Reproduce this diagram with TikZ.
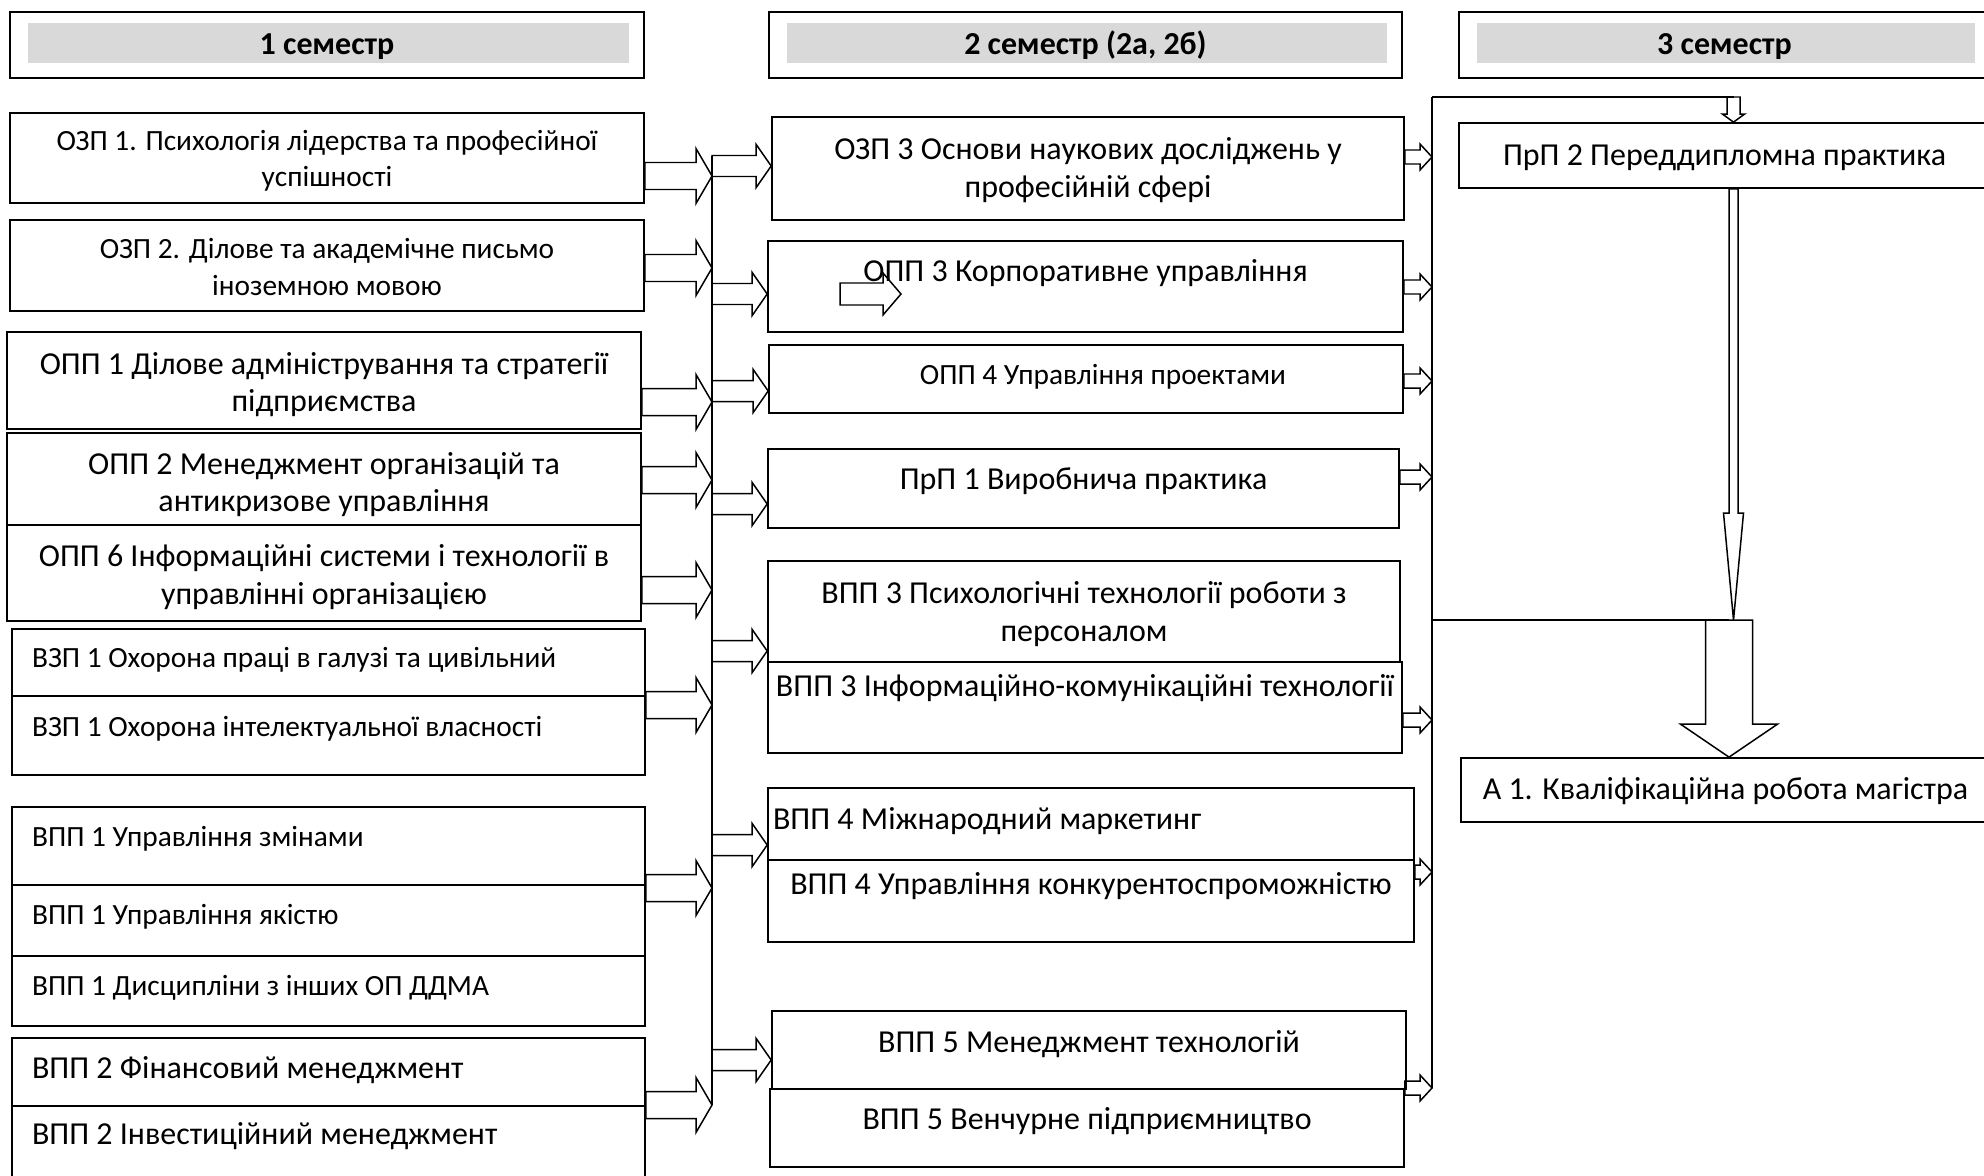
\documentclass[tikz,border=0pt]{standalone}
\usepackage{fontspec}
\setmainfont{Carlito}
\usetikzlibrary{shapes,arrows,positioning}
\definecolor{headgrey}{HTML}{D9D9D9}
\tikzstyle{block} = [rectangle, draw, line width=1pt, inner xsep=0pt, inner ysep=0pt, align=center, font=\fontsize{18.2}{21.5}\selectfont]
\tikzstyle{smalltext} = [font=\fontsize{16.7}{21}\selectfont]
\tikzstyle{leftblock} = [block, align=flush left, inner xsep=0.4cm, text width=11.86cm]
\tikzstyle{colone} = [minimum width=12.68cm]
\tikzstyle{coltwo} = [minimum width=12.66cm]
\tikzstyle{colthree} = [minimum width=10.62cm]
\tikzstyle{semhead} = [block, minimum height=1.32cm, font=\fontsize{18.2}{21.5}\selectfont\bfseries, path picture={\fill[headgrey] ([shift={(0.36cm,0.3cm)}]path picture bounding box.south west) rectangle ([shift={(-0.3cm,-0.22cm)}]path picture bounding box.north east);}]
\tikzstyle{lift} = [text height=11pt, text depth=#1]
\tikzstyle{liftpair} = [text height=#1, text depth=0pt]
\tikzstyle{bus} = [draw, line width=0.85pt]
\tikzset{
  fatright/.style n args={3}{draw, line width=0.85pt, to path={([shift={(0,#1)}]\tikztostart) -- ([shift={(-#3,#1)}]\tikztotarget) -- ([shift={(-#3,#2)}]\tikztotarget) -- (\tikztotarget) -- ([shift={(-#3,-#2)}]\tikztotarget) -- ([shift={(-#3,-#1)}]\tikztotarget) -- ([shift={(0,-#1)}]\tikztostart) -- cycle}},
  fatdown/.style n args={3}{draw, line width=0.85pt, to path={([shift={(-#1,0)}]\tikztostart) -- ([shift={(-#1,#3)}]\tikztotarget) -- ([shift={(-#2,#3)}]\tikztotarget) -- (\tikztotarget) -- ([shift={(#2,#3)}]\tikztotarget) -- ([shift={(#1,#3)}]\tikztotarget) -- ([shift={(#1,0)}]\tikztostart) -- cycle}}
}
\tikzstyle{leftin} = [fatright={13.5}{27.5}{16}]
\tikzstyle{leftout} = [fatright={10.5}{21.5}{15}]
\tikzstyle{rightin} = [fatright={7}{13}{12}]

\begin{document}
\begin{tikzpicture}[x=0.02cm, y=0.02cm]
			\useasboundingbox (0,0) rectangle (1984,-1176);
			\clip (0,0) rectangle (1984,-1176);
			% Semester headers
			\node [semhead, colone, lift=0pt] (head1) at (327, -45) {1 семестр};
			\node [semhead, coltwo, lift=0pt] (head2) at (1085.5, -45) {2 семестр (2а, 2б)};
			\node [semhead, colthree, lift=0pt] (head3) at (1724.5, -45) {3 семестр};
			
			% Place nodes, semester 1
			\node [block, smalltext, colone, minimum height=1.8cm, liftpair=32.9pt] (ozp1) at (327, -158) {ОЗП 1. Психологія лідерства та професійної\\успішності};
			\node [block, smalltext, colone, minimum height=1.82cm, liftpair=33.7pt] (ozp2) at (327, -265.5) {ОЗП 2. Ділове та академічне письмо\\іноземною мовою};
			\node [block, colone, minimum height=1.94cm, liftpair=35.8pt] (opp1) at (324, -380.5) {ОПП 1 Ділове адміністрування та стратегії\\підприємства};
			\node [block, colone, minimum height=1.84cm, liftpair=37.4pt] (opp2) at (324, -479) {ОПП 2 Менеджмент організацій та\\антикризове управління};
			\node [block, colone, minimum height=1.92cm, liftpair=35.6pt] (opp6) at (324, -573) {ОПП 6 Інформаційні системи і технології в\\управлінні організацією};
			\node [leftblock, smalltext, minimum height=1.34cm, lift=5.1pt] (vzp1a) at (328.5, -662.5) {ВЗП 1 Охорона праці в галузі та цивільний};
			\node [leftblock, smalltext, minimum height=1.58cm, lift=10.4pt] (vzp1b) at (328.5, -735.5) {ВЗП 1 Охорона інтелектуальної власності};
			\node [leftblock, smalltext, minimum height=1.56cm, lift=10.9pt] (vpp1a) at (328.5, -846) {ВПП 1 Управління змінами};
			\node [leftblock, smalltext, minimum height=1.42cm, lift=6.5pt] (vpp1b) at (328.5, -920.5) {ВПП 1 Управління якістю};
			\node [leftblock, smalltext, minimum height=1.4cm, lift=6pt] (vpp1c) at (328.5, -991) {ВПП 1 Дисципліни з інших ОП ДДМА};
			\node [leftblock, minimum height=1.36cm, lift=3.2pt] (vpp2a) at (328.5, -1072) {ВПП 2 Фінансовий менеджмент};
			\node [leftblock, minimum height=1.68cm, lift=14.7pt] (vpp2b) at (328.5, -1148) {ВПП 2 Інвестиційний менеджмент};
			
			% Place nodes, semester 2
			\node [block, coltwo, minimum width=12.64cm, minimum height=2.06cm, liftpair=32.5pt] (ozp3) at (1088, -168.5) {ОЗП 3 Основи наукових досліджень у\\професійній сфері};
			\node [block, coltwo, minimum width=12.7cm, minimum height=1.82cm, lift=16.4pt] (opp3) at (1085.5, -286.5) {ОПП 3 Корпоративне управління};
			\node [block, smalltext, coltwo, minimum width=12.68cm, minimum height=1.36cm, lift=5.1pt] (opp4) at (1086, -379) {\hspace*{0.68cm}ОПП 4 Управління проектами};
			\node [block, coltwo, minimum width=12.62cm, minimum height=1.58cm, lift=10.2pt] (prp1) at (1083.5, -488.5) {ПрП 1 Виробнича практика};
			\node [block, coltwo, minimum width=12.64cm, minimum height=2.02cm, liftpair=33.6pt] (vpp3a) at (1084, -611.5) {ВПП 3 Психологічні технології роботи з\\персоналом};
			\node [block, coltwo, minimum width=12.68cm, minimum height=1.82cm, lift=24pt] (vpp3b) at (1085, -707.5) {ВПП 3 Інформаційно-комунікаційні технології};
			\node [leftblock, inner xsep=0.1cm, text width=12.72cm, minimum height=1.44cm, lift=5.2pt] (vpp4a) at (1091, -824) {ВПП 4 Міжнародний маркетинг};
			\node [block, minimum width=12.92cm, minimum height=1.64cm, lift=18pt] (vpp4b) at (1091, -901) {ВПП 4 Управління конкурентоспроможністю};
			\node [block, coltwo, minimum width=12.68cm, minimum height=1.56cm, lift=7.6pt] (vpp5a) at (1089, -1050) {ВПП 5 Менеджмент технологій};
			\node [block, coltwo, minimum width=12.68cm, minimum height=1.56cm, lift=9.3pt] (vpp5b) at (1087, -1128) {ВПП 5 Венчурне підприємництво};
			
			% Place nodes, semester 3
			\node [block, colthree, minimum height=1.3cm, lift=0pt] (prp2) at (1724.5, -155.5) {ПрП 2 Переддипломна практика};
			\node [block, colthree, minimum width=10.58cm, minimum height=1.28cm, lift=0pt] (a1) at (1725.5, -790) {А 1. Кваліфікаційна робота магістра};
			
			% Bus points
			\coordinate (lbustop) at (712, -156);
			\coordinate (j1) at (712, -176);
			\coordinate (j2) at (712, -268);
			\coordinate (j3) at (712, -402);
			\coordinate (j4) at (712, -480);
			\coordinate (j5) at (712, -590);
			\coordinate (j6) at (712, -705);
			\coordinate (j7) at (712, -888);
			\coordinate (j8) at (712, -1105);
			\coordinate (k1) at (712, -166);
			\coordinate (k2) at (712, -294);
			\coordinate (k3) at (712, -391);
			\coordinate (k4) at (712, -504);
			\coordinate (k5) at (712, -651);
			\coordinate (k6) at (712, -845);
			\coordinate (k7) at (712, -1060);
			\coordinate (rbustop) at (1432, -97);
			\coordinate (r1) at (1432, -157);
			\coordinate (r2) at (1432, -287);
			\coordinate (r3) at (1432, -381);
			\coordinate (r4) at (1432, -477);
			\coordinate (r5) at (1432, -720);
			\coordinate (r6) at (1432, -872);
			\coordinate (r7) at (1432, -1088);
			\coordinate (prpin) at (1733.5, -97);
			\coordinate (prpout) at (1733.5, -620);
			\coordinate (a1in) at (1729, -620);
			\coordinate (strayt) at (840, -294);
			\coordinate (strayh) at (901, -294);
			
			% Draw edges
			\path [bus] (lbustop) -- (j8);
			\path [leftin] (ozp1.east |- j1) to (j1);
			\path [leftin] (ozp2.east |- j2) to (j2);
			\path [leftin] (opp1.east |- j3) to (j3);
			\path [leftin] (opp2.east |- j4) to (j4);
			\path [leftin] (opp6.east |- j5) to (j5);
			\path [leftin] (vzp1b.east |- j6) to (j6);
			\path [leftin] (vpp1a.east |- j7) to (j7);
			\path [leftin] (vpp2a.east |- j8) to (j8);
			\path [leftout] (k1) to (ozp3.west |- k1);
			\path [leftout] (k2) to (opp3.west |- k2);
			\path [leftout] (k3) to (opp4.west |- k3);
			\path [leftout] (k4) to (prp1.west |- k4);
			\path [leftout] (k5) to (vpp3a.west |- k5);
			\path [leftout] (k6) to (vpp4a.west |- k6);
			\path [leftout] (k7) to (vpp5a.west |- k7);
			\path [fatright={11}{21}{18}] (strayt) to (strayh);
			
			\path [bus] (rbustop) -- (r7);
			\path [rightin] (ozp3.east |- r1) to (r1);
			\path [rightin] (opp3.east |- r2) to (r2);
			\path [rightin] (opp4.east |- r3) to (r3);
			\path [rightin] (prp1.east |- r4) to (r4);
			\path [rightin] (vpp3b.east |- r5) to (r5);
			\path [rightin] (vpp4b.east |- r6) to (r6);
			\path [rightin] (vpp5b.east |- r7) to (r7);
			
			\path [bus] (rbustop) -- (prpin);
			\path [fatdown={6.5}{11}{8}] (prpin) to (prpin |- prp2.north);
			\path [fatdown={4.5}{10}{107}] (prpin |- prp2.south) to (prpout);
			\path [bus] (rbustop |- a1in) -- (a1in);
			\path [fatdown={23.5}{48.5}{33}] (a1in) to (a1in |- a1.north);
		\end{tikzpicture}
\end{document}
